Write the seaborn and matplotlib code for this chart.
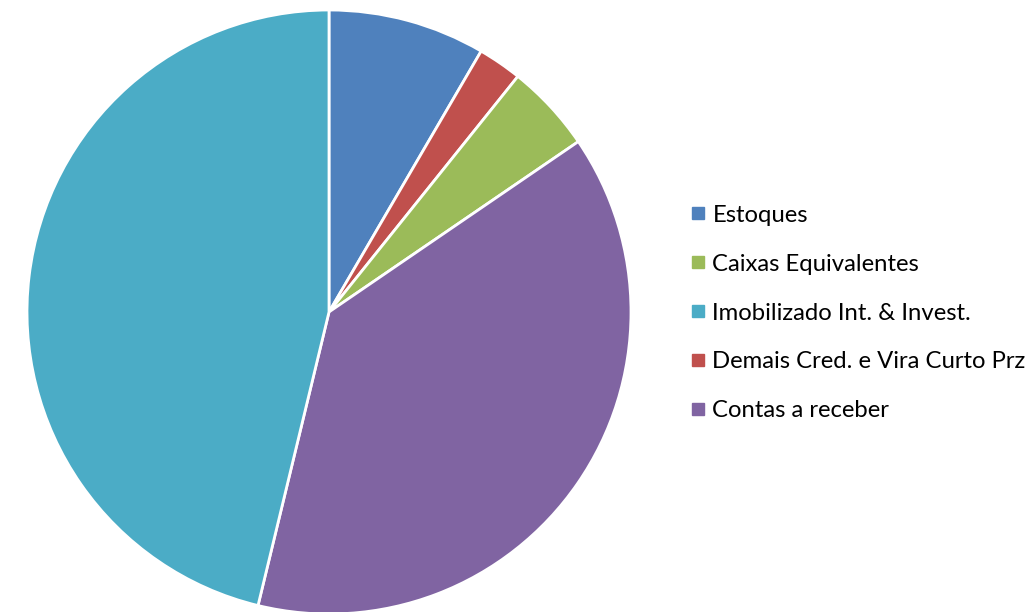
import matplotlib
matplotlib.use("Agg")
import matplotlib.pyplot as plt
from matplotlib.lines import Line2D
import seaborn as sns

# slices in clockwise order from 12 o'clock (percent of total)
slice_labels = ["Estoques", "Demais Cred. e Vira Curto Prz", "Caixas Equivalentes",
                "Contas a receber", "Imobilizado Int. & Invest."]
slice_values = [8.4, 2.35, 4.7, 38.3, 46.2]

# legend order as shown in the chart
legend_labels = ["Estoques", "Caixas Equivalentes", "Imobilizado Int. & Invest.",
                 "Demais Cred. e Vira Curto Prz", "Contas a receber"]

colors = {
    "Estoques": "#4F81BD",
    "Demais Cred. e Vira Curto Prz": "#C0504D",
    "Caixas Equivalentes": "#9BBB59",
    "Contas a receber": "#8064A2",
    "Imobilizado Int. & Invest.": "#4BACC6",
}


def main():
    sns.set_theme(style="white")
    plt.rcParams['font.family'] = ['Lato', 'DejaVu Sans']

    W, H = 1034, 612
    fig = plt.figure(figsize=(W / 100, H / 100), dpi=100)
    fig.patch.set_facecolor("white")

    cx, cy, r = 329, 312, 302
    ax = fig.add_axes([(cx - r) / W, (H - cy - r) / H, 2 * r / W, 2 * r / H])
    ax.pie(slice_values, colors=[colors[l] for l in slice_labels],
           startangle=90, counterclock=False, radius=1,
           wedgeprops=dict(edgecolor="white", linewidth=2))
    ax.set_xlim(-1, 1)
    ax.set_ylim(-1, 1)
    ax.set_axis_off()

    handles = [Line2D([0], [0], marker="s", linestyle="none", markersize=8.5,
                      markerfacecolor=colors[l], markeredgecolor=colors[l])
               for l in legend_labels]
    fig.legend(handles, legend_labels, loc="center left",
               bbox_to_anchor=(691 / W, 1 - 313 / H), frameon=False,
               fontsize=17.2, handlelength=0.6, handletextpad=0.3,
               labelspacing=1.17, borderpad=0, borderaxespad=0,
               labelcolor="black")

    fig.savefig("out.png", dpi=100)


if __name__ == "__main__":
    main()
